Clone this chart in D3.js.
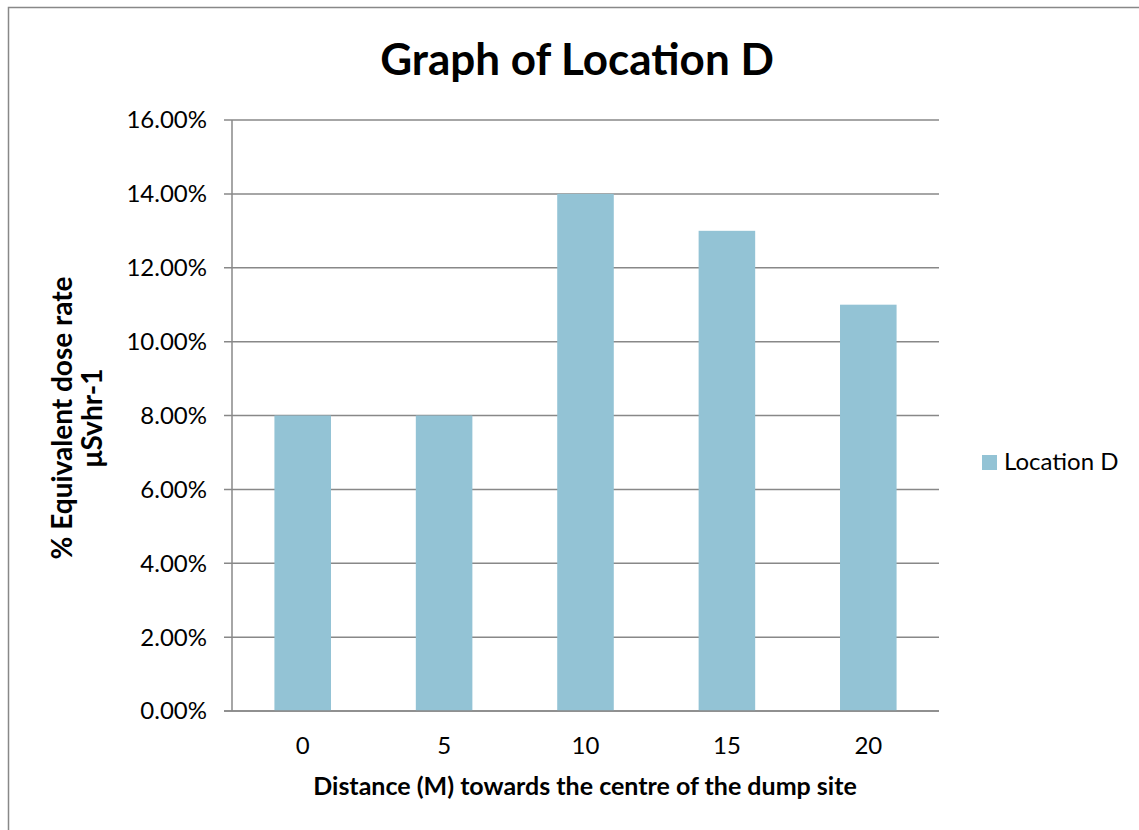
<!DOCTYPE html>
<html><head><meta charset="utf-8">
<script src="https://cdn.jsdelivr.net/npm/d3@7/dist/d3.min.js"></script>
<style>body{margin:0;background:#fff}svg{display:block}text{font-family:Lato,"Open Sans",sans-serif;fill:#000}</style>
</head><body>
<script>
const categories = ["0","5","10","15","20"];
const values = [0.08, 0.08, 0.14, 0.13, 0.11];
const yTicks = [0,0.02,0.04,0.06,0.08,0.10,0.12,0.14,0.16];
const seriesName = "Location D";

const W=1139,H=830;
const svg=d3.select("body").append("svg").attr("width",W).attr("height",H);
svg.append("rect").attr("x",8.5).attr("y",7.5).attr("width",1200).attr("height",900)
  .attr("fill","#fff").attr("stroke","#888").attr("stroke-width",1.5);

const L=232,R=939,T=120,B=711;
const x=d3.scaleBand().domain(categories).range([L,R]).paddingInner(0.6).paddingOuter(0.3);
const y=d3.scaleLinear().domain([0,0.16]).range([B,T]);

const g=svg.append("g");
g.selectAll("line.grid").data(yTicks).join("line")
  .attr("x1",L-8).attr("x2",R).attr("y1",d=>y(d)).attr("y2",d=>y(d))
  .attr("stroke","#888").attr("stroke-width",1.5);
g.append("line").attr("x1",L).attr("x2",L).attr("y1",T).attr("y2",B).attr("stroke","#888").attr("stroke-width",1.5);

g.selectAll("rect.bar").data(values).join("rect")
  .attr("x",(d,i)=>x(categories[i])).attr("width",x.bandwidth())
  .attr("y",d=>y(d)).attr("height",d=>B-y(d)).attr("fill","#93c3d5");
g.append("line").attr("x1",L-8).attr("x2",R).attr("y1",B).attr("y2",B).attr("stroke","#888").attr("stroke-width",1.5);

const fmt=d=>(d*100).toFixed(2)+"%";
g.selectAll("text.yt").data(yTicks).join("text")
  .attr("x",L-25).attr("y",d=>y(d)).attr("dy","0.35em").attr("text-anchor","end")
  .attr("font-size",24).text(fmt);
g.selectAll("text.xt").data(categories).join("text")
  .attr("x",d=>x(d)+x.bandwidth()/2).attr("y",754).attr("text-anchor","middle")
  .attr("font-size",24).text(d=>d);

svg.append("text").attr("x",577).attr("y",75).attr("text-anchor","middle")
  .attr("font-size",44).attr("font-weight","bold").text("Graph of Location D");
svg.append("text").attr("x",585).attr("y",795).attr("text-anchor","middle")
  .attr("font-size",25).attr("font-weight","bold").text("Distance (M) towards the centre of the dump site");
const yt=svg.append("text").attr("transform","translate(0,418) rotate(-90)").attr("text-anchor","middle")
  .attr("font-size",28).attr("font-weight","bold");
yt.append("tspan").attr("x",0).attr("y",72).text("% Equivalent dose rate");
yt.append("tspan").attr("x",0).attr("y",102).text("μSvhr-1");

svg.append("rect").attr("x",982).attr("y",455).attr("width",15).attr("height",15).attr("fill","#93c3d5");
svg.append("text").attr("x",1004).attr("y",470).attr("font-size",24).text(seriesName);
</script>
</body></html>
